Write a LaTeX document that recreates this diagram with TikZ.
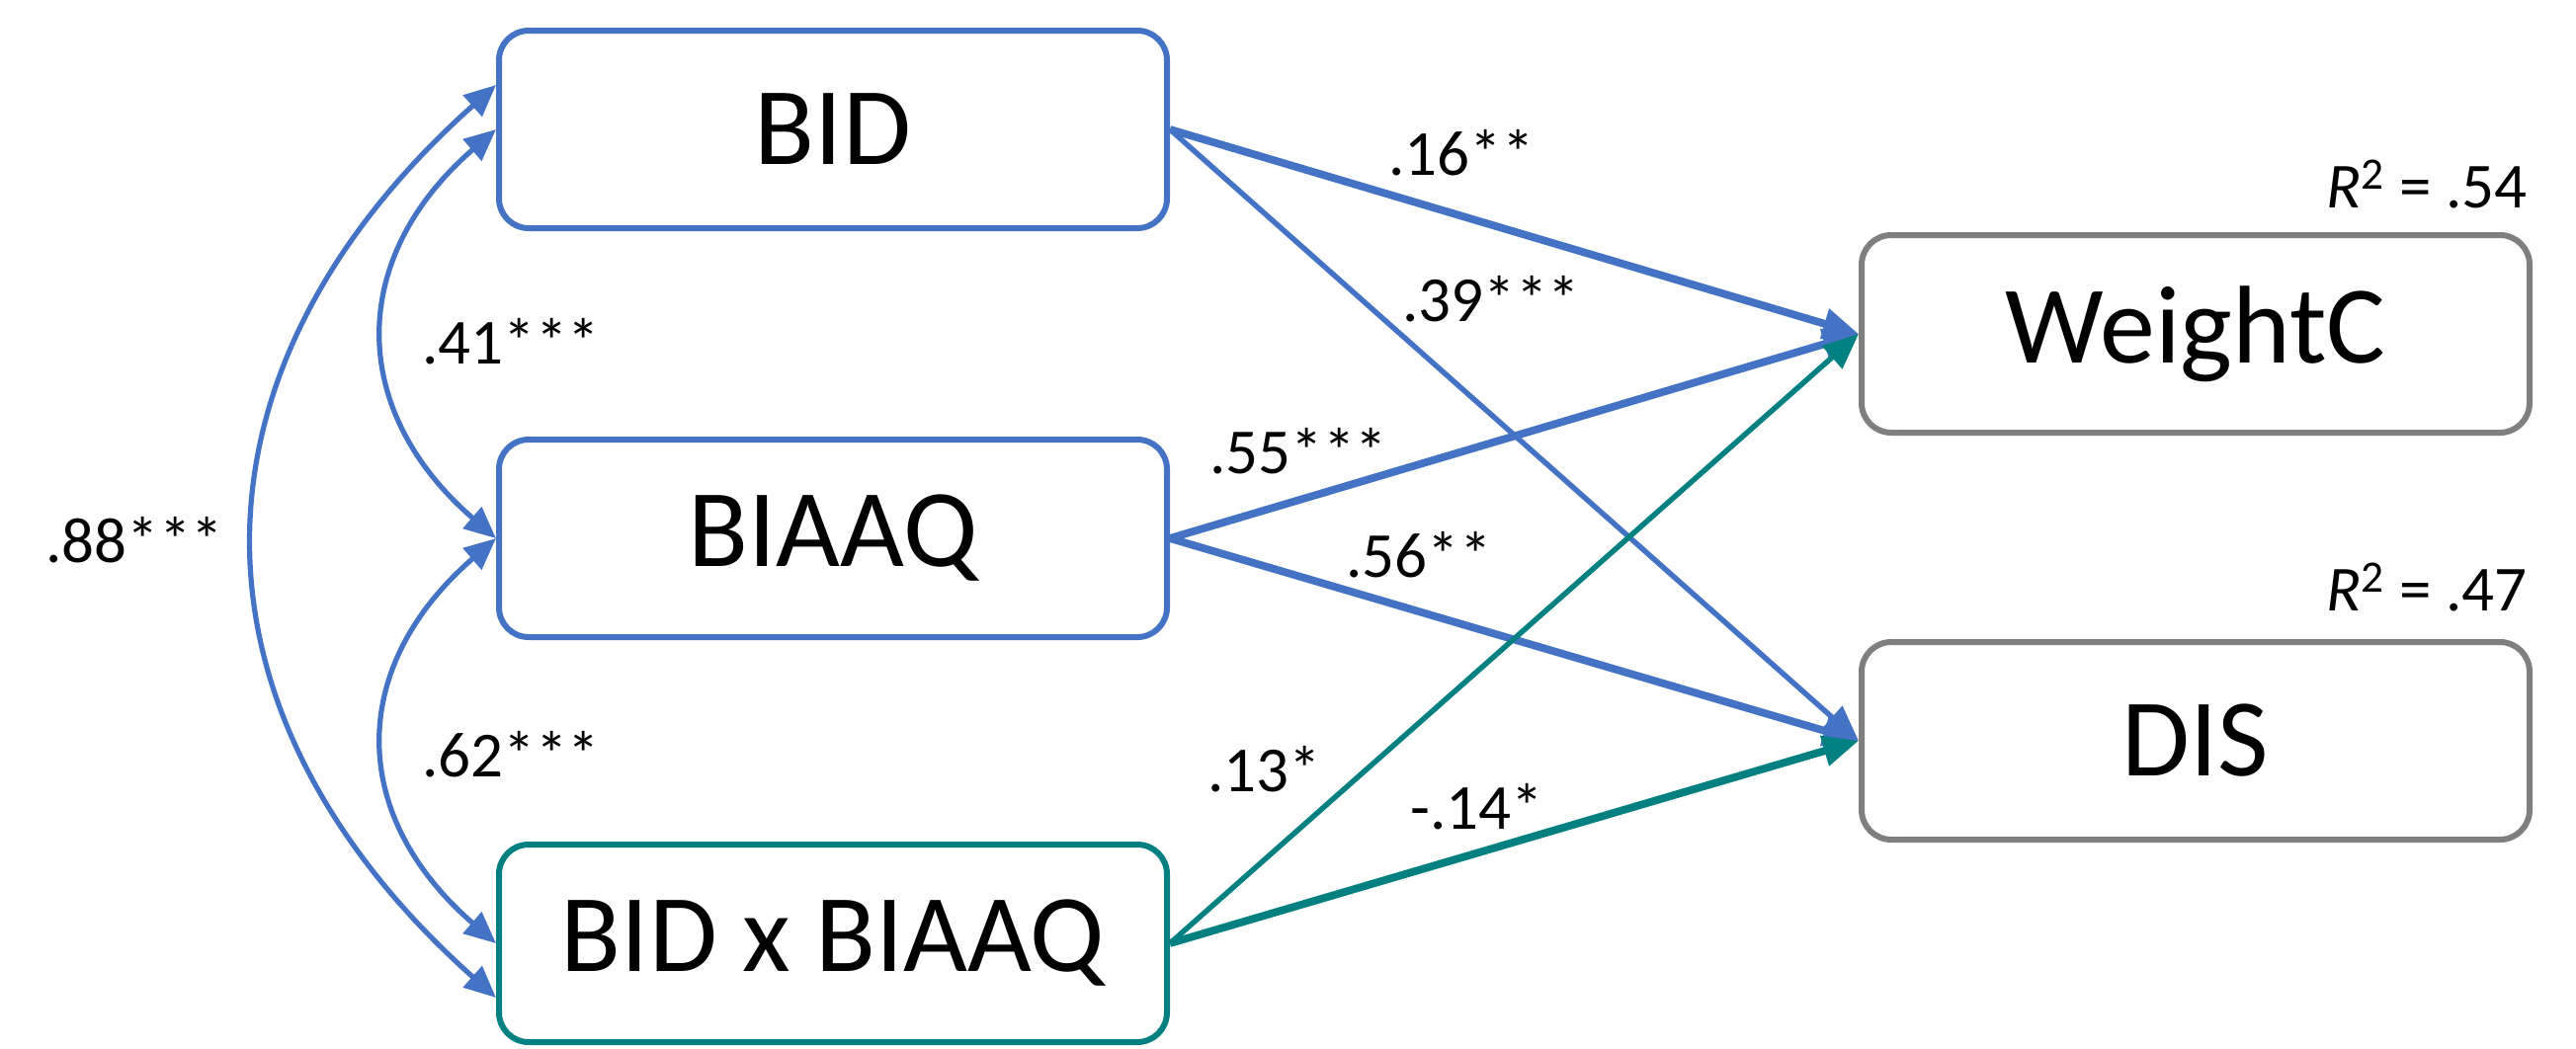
\documentclass[tikz,border=0pt]{standalone}
\usepackage{fontspec}
\setmainfont{Carlito}
\usetikzlibrary{arrows.meta,calc}
\definecolor{cblue}{HTML}{4472C4}
\definecolor{cteal}{HTML}{008080}
\definecolor{cgray}{HTML}{7F7F7F}
\begin{document}
\begin{tikzpicture}[x=0.5pt,y=-0.5pt,
  box/.style={draw, line width=3pt, rounded corners=15pt, minimum width=338pt, minimum height=100pt, inner sep=0pt, fill=white, font=\fontsize{56}{60}\selectfont},
  lbl/.style={anchor=base west, inner sep=0pt, font=\fontsize{32.5}{36}\selectfont},
  rlbl/.style={anchor=base east, inner sep=0pt, font=\fontsize{32.5}{36}\selectfont},
  tip/.style={-{Triangle[length=18pt,width=15pt]}},
  dtip/.style={{Triangle[length=16pt,width=14pt]}-{Triangle[length=16pt,width=14pt]}},
  heavy/.style={line width=3.9pt},
  light/.style={line width=2.7pt},
  curvy/.style={line width=2.6pt, draw=cblue, dtip},
]
\useasboundingbox (0,0) rectangle (2607,1061);

\node[box, draw=cblue] (BID) at (843,131) {BID};
\node[box, draw=cblue] (BIAAQ) at (843,545) {BIAAQ};
\node[box, draw=cteal] (INT) at (843,955) {BID x BIAAQ};
\node[box, draw=cgray] (WC) at (2222,338) {WeightC};
\node[box, draw=cgray] (DIS) at (2222,750) {DIS};

\coordinate (BIDa) at ($(BID.west)+(0,-45)$);
\coordinate (INTb) at ($(INT.west)+(0,55)$);

% covariances
\draw[curvy] (BID.west) .. controls +(-150,130) and +(-150,-130) .. (BIAAQ.west);
\draw[curvy] (BIAAQ.west) .. controls +(-150,130) and +(-150,-130) .. (INT.west);
\draw[curvy] (BIDa) .. controls +(-325,290) and +(-325,-290) .. (INTb);

% paths
\draw[tip, heavy, cblue] (BID.east) -- (WC.west);
\draw[tip, light, cblue] (BID.east) -- (DIS.west);
\draw[tip, heavy, cblue] (BIAAQ.east) -- (WC.west);
\draw[tip, heavy, cblue] (BIAAQ.east) -- (DIS.west);
\draw[tip, light, cteal] (INT.east) -- (WC.west);
\draw[tip, heavy, cteal] (INT.east) -- (DIS.west);

% labels
\node[lbl] (l41) at (427,368) {.41***};
\node[lbl] (l62) at (427,786) {.62***};
\node[lbl] (l88) at (46,569) {.88***};
\node[lbl] (l16) at (1405,177) {.16**};
\node[lbl] (l39) at (1419,325) {.39***};
\node[lbl] (l55) at (1224,479) {.55***};
\node[lbl] (l56) at (1362,584) {.56**};
\node[lbl] (l13) at (1222,801) {.13*};
\node[lbl] (l14) at (1427,839) {-.14*};
\node[rlbl] (r54) at (2558,210) {\textit{R}\textsuperscript{2} = .54};
\node[rlbl] (r47) at (2558,618) {\textit{R}\textsuperscript{2} = .47};
\end{tikzpicture}
\end{document}
